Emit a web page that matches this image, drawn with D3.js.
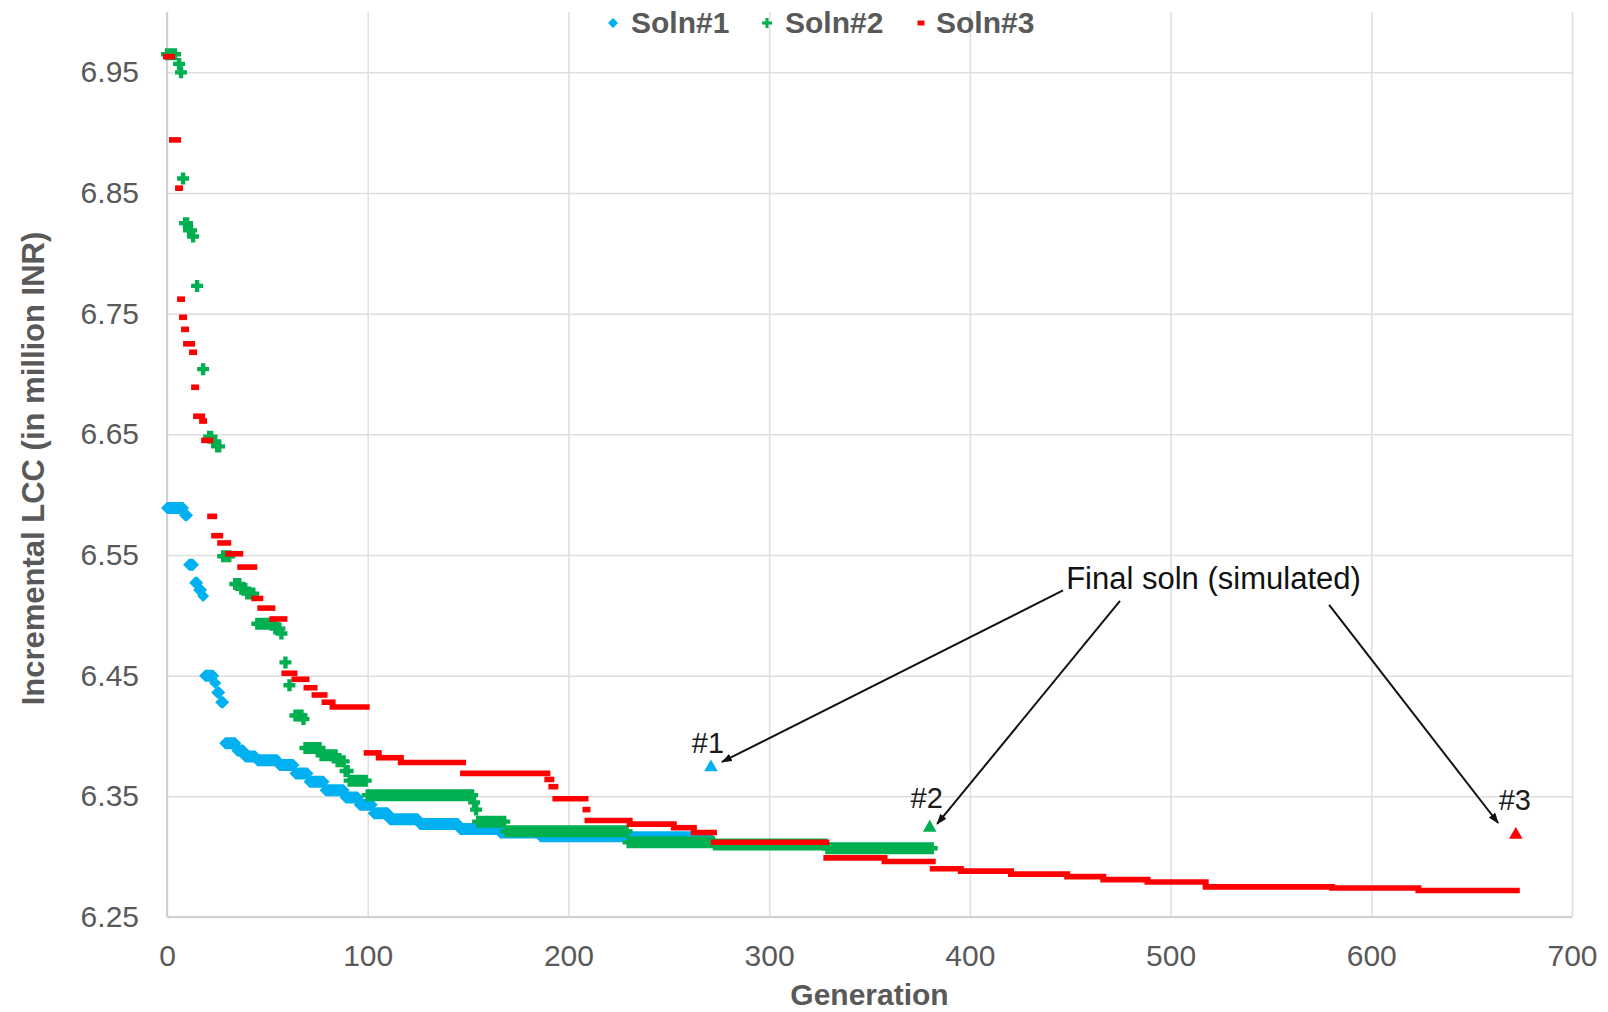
<!DOCTYPE html>
<html>
<head>
<meta charset="utf-8">
<script src="https://cdn.jsdelivr.net/npm/d3@7"></script>
<style>
  body { margin: 0; background: #fff; }
  text { font-family: "Liberation Sans", Arial, sans-serif; }
</style>
</head>
<body>
<script>
// axis ticks
var xTicks = [0, 100, 200, 300, 400, 500, 600, 700];
var yTicks = [6.25, 6.35, 6.45, 6.55, 6.65, 6.75, 6.85, 6.95];
var seriesNames = ["Soln#1", "Soln#2", "Soln#3"];

// best-so-far runs: [first generation, last generation, incremental LCC]
var soln1 = [
  [0, 8, 6.589], [9, 10, 6.583], [11, 13, 6.542], [14, 15, 6.527], [16, 17, 6.521],
  [18, 18, 6.516], [19, 23, 6.450], [24, 24, 6.444], [25, 26, 6.436], [27, 28, 6.428],
  [29, 34, 6.394], [35, 38, 6.388], [39, 44, 6.383], [45, 55, 6.380], [56, 63, 6.376],
  [64, 70, 6.369], [71, 78, 6.362], [79, 88, 6.355], [89, 95, 6.349], [96, 102, 6.343],
  [103, 110, 6.336], [111, 125, 6.331], [126, 145, 6.327], [146, 165, 6.323],
  [166, 185, 6.320], [186, 230, 6.317], [231, 270, 6.316]
];
var soln2 = [
  [0, 4, 6.965], [6, 6, 6.957], [7, 7, 6.950], [8, 8, 6.862], [9, 10, 6.825],
  [11, 12, 6.819], [13, 13, 6.814], [15, 15, 6.773], [18, 18, 6.704], [21, 22, 6.648],
  [23, 24, 6.644], [25, 26, 6.640], [28, 31, 6.549], [34, 36, 6.526], [37, 39, 6.522],
  [40, 43, 6.518], [45, 53, 6.493], [54, 56, 6.489], [57, 57, 6.485], [59, 59, 6.461],
  [61, 61, 6.442], [64, 67, 6.417], [68, 68, 6.414], [69, 76, 6.390], [77, 84, 6.384],
  [85, 88, 6.379], [89, 90, 6.371], [91, 99, 6.363], [100, 152, 6.351], [153, 153, 6.345],
  [154, 154, 6.339], [155, 168, 6.329], [169, 229, 6.321], [230, 272, 6.312],
  [273, 328, 6.310], [329, 381, 6.307]
];
var soln3 = [
  [0, 2, 6.963], [3, 5, 6.894], [6, 6, 6.854], [7, 7, 6.762], [8, 8, 6.747],
  [9, 9, 6.737], [10, 12, 6.725], [13, 13, 6.718], [14, 14, 6.689], [15, 17, 6.665],
  [18, 18, 6.661], [19, 21, 6.645], [22, 23, 6.582], [24, 26, 6.566], [27, 30, 6.560],
  [31, 36, 6.551], [37, 43, 6.540], [44, 46, 6.514], [47, 52, 6.506], [53, 58, 6.497],
  [59, 63, 6.452], [64, 69, 6.447], [70, 73, 6.440], [74, 78, 6.434], [79, 82, 6.428],
  [83, 99, 6.424], [100, 105, 6.386], [106, 116, 6.382], [117, 147, 6.378],
  [148, 189, 6.369], [190, 191, 6.364], [192, 193, 6.358], [194, 208, 6.348],
  [209, 209, 6.339], [210, 230, 6.330], [231, 252, 6.327], [253, 262, 6.324],
  [263, 272, 6.320], [273, 328, 6.312], [329, 357, 6.299], [358, 381, 6.296],
  [382, 395, 6.290], [396, 420, 6.288], [421, 448, 6.2855], [449, 466, 6.2835],
  [467, 488, 6.281], [489, 517, 6.279], [518, 580, 6.275], [581, 623, 6.274],
  [624, 672, 6.272]
];

// simulated final solutions
var finalLabels = ["#1", "#2", "#3"];
var finalGen = [271, 380, 672];
var finalLCC = [6.374, 6.324, 6.318];
// label anchors (generation, LCC at text baseline)
var labelGen = [269.5, 378.5, 671.5];
var labelLCC = [6.386, 6.3405, 6.339];

// annotation: text anchor and arrows, in data units [generation, LCC]
var noteText = "Final soln (simulated)";
var notePos = [448, 6.522];
var arrowFrom = [[446.4, 6.5206], [474.8, 6.5119], [579, 6.5086]];
var arrowTo = [[276.5, 6.3785], [383.7, 6.3271], [663.2, 6.3279]];

// set the dimensions and margins of the graph
var margin = {top: 12, right: 36, bottom: 95, left: 167},
    width = 1608 - margin.left - margin.right,
    height = 1012 - margin.top - margin.bottom;

var colors = ["#00b0f0", "#00b050", "#ff0000"];
var gray = "#595959";

var svg = d3.select("body").append("svg")
    .attr("width", 1608)
    .attr("height", 1012);

var defs = svg.append("defs");
defs.append("marker")
    .attr("id", "arrow")
    .attr("markerUnits", "userSpaceOnUse")
    .attr("markerWidth", 12).attr("markerHeight", 8)
    .attr("refX", 10).attr("refY", 4)
    .attr("orient", "auto")
  .append("path")
    .attr("d", "M0,0 L11,4 L0,8 Z")
    .attr("fill", "#111");

var g = svg.append("g")
    .attr("transform", "translate(" + margin.left + "," + margin.top + ")");

var x = d3.scaleLinear().domain([0, 700]).range([0, width]);
var y = d3.scaleLinear().domain([6.25, 7.0]).range([height, 0]);

// gridlines + tick labels
var yAxis = g.append("g")
    .call(d3.axisLeft(y).tickValues(yTicks).tickSize(-width).tickPadding(28)
      .tickFormat(d3.format(".2f")));
yAxis.select(".domain").remove();
yAxis.selectAll("line").attr("stroke", "#dedede").attr("stroke-width", 1.5);
yAxis.selectAll("text").attr("fill", gray).style("font-size", "30px");

var xAxis = g.append("g")
    .attr("transform", "translate(0," + height + ")")
    .call(d3.axisBottom(x).tickValues(xTicks).tickSize(-height).tickPadding(28));
xAxis.select(".domain").remove();
xAxis.selectAll("line").attr("stroke", "#dedede").attr("stroke-width", 1.5);
xAxis.selectAll("text").attr("fill", gray).style("font-size", "30px");

// axis lines a bit darker
g.append("line").attr("x1", 0).attr("x2", width).attr("y1", height).attr("y2", height)
    .attr("stroke", "#d0d0d0").attr("stroke-width", 2);
g.append("line").attr("x1", 0).attr("x2", 0).attr("y1", 0).attr("y2", height)
    .attr("stroke", "#d0d0d0").attr("stroke-width", 2);

// a run of markers at the same value merges into one band
function diamondRun(r, s) {
  var x0 = x(r[0]), x1 = x(r[1]), yc = y(r[2]);
  return "M" + (x0 - s) + "," + yc + "L" + x0 + "," + (yc - s) + "L" + x1 + "," + (yc - s) +
    "L" + (x1 + s) + "," + yc + "L" + x1 + "," + (yc + s) + "L" + x0 + "," + (yc + s) + "Z";
}
function plusRun(r, s, t) {
  var x0 = x(r[0]), x1 = x(r[1]), yc = y(r[2]);
  return "M" + (x0 - t) + "," + (yc - s) + "H" + (x1 + t) + "V" + (yc + s) + "H" + (x0 - t) + "Z" +
    "M" + (x0 - s) + "," + (yc - t) + "H" + (x1 + s) + "V" + (yc + t) + "H" + (x0 - s) + "Z";
}
function dashRun(r, w, h) {
  var x0 = x(r[0]), x1 = x(r[1]), yc = y(r[2]);
  return "M" + (x0 - w) + "," + (yc - h) + "H" + (x1 + w) + "V" + (yc + h) + "H" + (x0 - w) + "Z";
}

g.append("g").selectAll("path").data(soln1).enter().append("path")
    .attr("d", function(d) { return diamondRun(d, 6); })
    .attr("fill", colors[0]);

g.append("g").selectAll("path").data(soln2).enter().append("path")
    .attr("d", function(d) { return plusRun(d, 6, 2.2); })
    .attr("fill", colors[1]);

g.append("g").selectAll("path").data(soln3).enter().append("path")
    .attr("d", function(d) { return dashRun(d, 4, 2.8); })
    .attr("fill", colors[2]);

// final simulated points
var tri = d3.symbol().type(d3.symbolTriangle).size(80);
g.append("g").selectAll("path").data(finalGen).enter().append("path")
    .attr("d", tri)
    .attr("transform", function(d, i) { return "translate(" + x(d) + "," + y(finalLCC[i]) + ")"; })
    .attr("fill", function(d, i) { return colors[i]; });

g.append("g").selectAll("text").data(finalLabels).enter().append("text")
    .attr("x", function(d, i) { return x(labelGen[i]); })
    .attr("y", function(d, i) { return y(labelLCC[i]); })
    .attr("text-anchor", "middle")
    .attr("fill", "#1a1a1a")
    .style("font-size", "29px")
    .text(function(d) { return d; });

// annotation
g.append("text")
    .attr("x", x(notePos[0])).attr("y", y(notePos[1]))
    .attr("fill", "#111")
    .style("font-size", "31px")
    .text(noteText);

g.append("g").selectAll("line").data(arrowFrom).enter().append("line")
    .attr("x1", function(d) { return x(d[0]); })
    .attr("y1", function(d) { return y(d[1]); })
    .attr("x2", function(d, i) { return x(arrowTo[i][0]); })
    .attr("y2", function(d, i) { return y(arrowTo[i][1]); })
    .attr("stroke", "#111")
    .attr("stroke-width", 2)
    .attr("marker-end", "url(#arrow)");

// axis titles
svg.append("text")
    .attr("transform", "translate(44," + (margin.top + height / 2 + 4) + ") rotate(-90)")
    .attr("text-anchor", "middle")
    .attr("fill", gray)
    .style("font-size", "31px").style("font-weight", "bold")
    .text("Incremental LCC (in million INR)");

svg.append("text")
    .attr("x", margin.left + width / 2).attr("y", 1005)
    .attr("text-anchor", "middle")
    .attr("fill", gray)
    .style("font-size", "30px").style("font-weight", "bold")
    .text("Generation");

// legend
var legendX = [613, 767, 921];
var legend = svg.append("g").selectAll("g").data(seriesNames).enter().append("g")
    .attr("transform", function(d, i) { return "translate(" + legendX[i] + ",23)"; });

legend.append("path")
    .attr("d", function(d, i) {
      if (i === 0) return "M-5,0L0,-5L5,0L0,5Z";
      if (i === 1) return "M-1.5,-5H1.5V-1.5H5V1.5H1.5V5H-1.5V1.5H-5V-1.5H-1.5Z";
      return "M-3.5,-2.5H3.5V2.5H-3.5Z";
    })
    .attr("fill", function(d, i) { return colors[i]; });

legend.append("text")
    .attr("x", function(d, i) { return i === 2 ? 15 : 18; })
    .attr("y", 10)
    .attr("fill", gray)
    .style("font-size", "30px").style("font-weight", "bold")
    .text(function(d) { return d; });
</script>
</body>
</html>
